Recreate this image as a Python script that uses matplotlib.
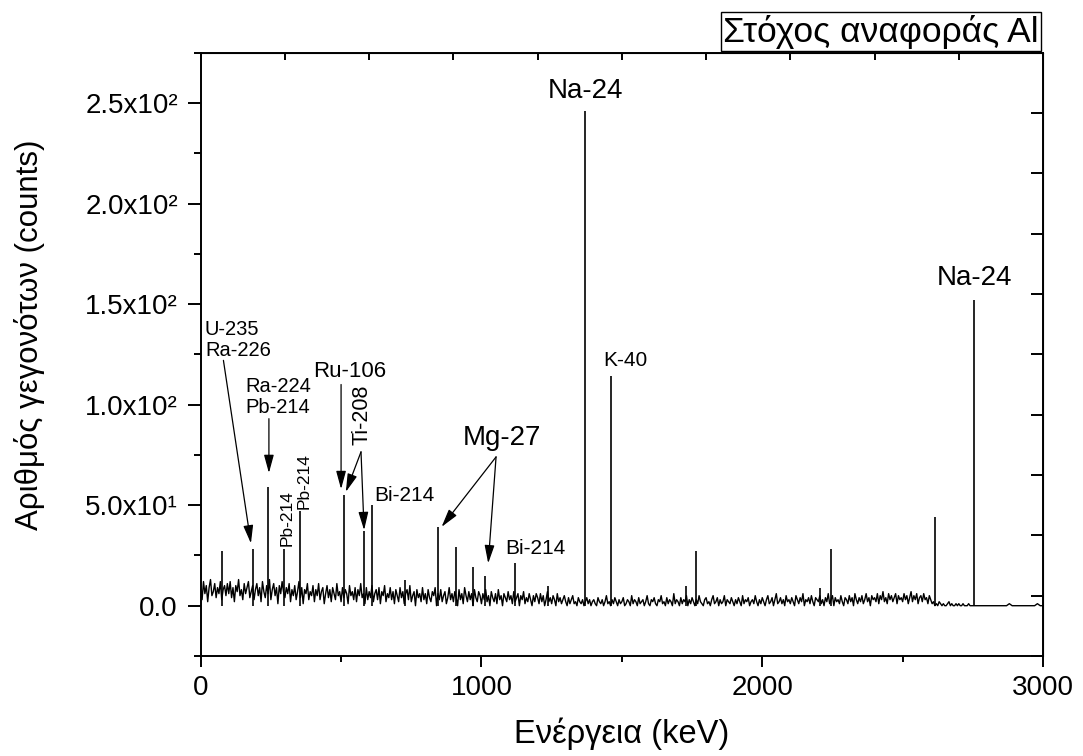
"""Espectro gamma del blanco de referencia de Al con las líneas identificadas."""

import matplotlib
matplotlib.use("Agg")
import matplotlib.pyplot as plt
import numpy as np

plt.rcParams["font.family"] = ["Liberation Sans", "DejaVu Sans"]

# --- Datos -------------------------------------------------------------------
# Fondo continuo: 0-2745 keV cada 5 keV
energia_fondo = np.arange(0, 2750, 5)
cuentas_fondo = [
    8, 3, 12, 6, 10, 2, 9, 13, 5, 7, 11, 4, 9, 6, 12, 3, 8, 10, 5, 11,
    6, 12, 4, 9, 2, 10, 7, 13, 5, 8, 3, 11, 6, 9, 12, 4, 7, 10, 3, 8,
    11, 5, 9, 2, 12, 7, 4, 10, 6, 13, 3, 8, 11, 5, 9, 1, 10, 6, 12, 7,
    4, 9, 6, 11, 2, 8, 5, 10, 3, 7, 12, 4, 9, 1, 8, 6, 11, 3, 7, 5,
    10, 2, 8, 5, 11, 3, 7, 9, 1, 6, 10, 4, 8, 2, 9, 6, 3, 11, 5, 7,
    2, 9, 4, 8, 6, 1, 10, 5, 7, 3, 9, 2, 8, 5, 11, 4, 6, 1, 9, 3,
    7, 4, 10, 2, 6, 8, 3, 9, 1, 7, 5, 10, 2, 6, 4, 9, 3, 7, 1, 8,
    5, 2, 9, 4, 7, 1, 6, 8, 3, 10, 2, 5, 7, 0, 8, 4, 6, 2, 9, 3,
    6, 1, 8, 4, 2, 7, 5, 9, 0, 6, 3, 8, 2, 5, 7, 1, 4, 9, 3, 6,
    2, 7, 4, 0, 8, 3, 6, 1, 9, 5, 2, 7, 3, 6, 0, 8, 4, 2, 7, 5,
    1, 6, 3, 8, 2, 5, 0, 7, 4, 2, 6, 1, 8, 3, 5, 0, 6, 4, 2, 7,
    3, 5, 1, 7, 2, 4, 6, 0, 5, 3, 7, 1, 4, 2, 6, 3, 0, 5, 2, 6,
    4, 1, 6, 2, 5, 0, 3, 7, 2, 4, 1, 5, 3, 0, 6, 2, 4, 1, 3, 5,
    2, 0, 4, 1, 3, 5, 1, 2, 0, 4, 2, 1, 3, 0, 2, 4, 1, 3, 0, 2,
    3, 1, 0, 4, 2, 1, 3, 0, 2, 5, 1, 2, 0, 3, 1, 4, 2, 0, 3, 1,
    2, 4, 0, 1, 3, 2, 0, 5, 1, 3, 2, 0, 4, 1, 2, 3, 0, 2, 5, 1,
    0, 3, 2, 4, 1, 0, 3, 2, 5, 1, 2, 0, 4, 1, 3, 2, 0, 6, 1, 3,
    2, 0, 4, 1, 3, 2, 5, 0, 3, 1, 4, 2, 0, 3, 1, 5, 2, 1, 0, 3,
    4, 1, 2, 0, 3, 5, 1, 2, 4, 0, 3, 1, 2, 5, 0, 3, 2, 1, 4, 2,
    0, 3, 1, 4, 2, 0, 5, 1, 3, 2, 4, 0, 2, 3, 1, 5, 2, 0, 3, 1,
    4, 2, 0, 3, 5, 1, 2, 4, 0, 3, 6, 1, 2, 4, 1, 3, 0, 5, 2, 3,
    1, 4, 2, 0, 5, 3, 1, 4, 2, 6, 0, 3, 2, 4, 1, 5, 2, 0, 4, 3,
    2, 5, 1, 3, 0, 4, 2, 6, 1, 3, 5, 0, 4, 2, 3, 1, 5, 2, 0, 4,
    3, 1, 5, 2, 4, 0, 6, 3, 1, 4, 2, 5, 1, 3, 6, 2, 4, 0, 5, 3,
    4, 2, 6, 1, 5, 3, 7, 2, 4, 1, 6, 3, 5, 2, 4, 6, 1, 5, 3, 4,
    2, 6, 3, 5, 1, 4, 7, 2, 5, 3, 6, 1, 4, 5, 2, 6, 3, 4, 1, 5,
    3, 1, 2, 0, 1, 0, 2, 1, 0, 1, 0, 0, 1, 2, 0, 1, 0, 0, 1, 0,
    1, 0, 0, 1, 0, 0, 0, 1, 0, 0,
]
# Cola del espectro: 2750-3000 keV cada 10 keV
energia_cola = np.arange(2750, 3001, 10)
cuentas_cola = [
    0, 0, 0, 0, 0, 0, 0, 0, 0, 0, 0, 0, 0, 1, 0, 0, 0, 0, 0, 0,
    0, 0, 0, 1, 0, 0,
]

# Picos (keV, cuentas)
picos_energia = [75, 186, 239, 295, 352, 511, 583, 609, 727, 844, 911, 969,
                 1014, 1120, 1238, 1369, 1461, 1730, 1765, 2204, 2244, 2614, 2754]
picos_cuentas = [27, 28, 59, 28, 47, 55, 37, 50, 13, 39, 29, 19,
                 15, 21, 10, 246, 114, 10, 27, 9, 28, 44, 152]

yticks = [0, 50, 100, 150, 200, 250]
yticklabels = ["0.0", "5.0x10¹", "1.0x10²", "1.5x10²", "2.0x10²", "2.5x10²"]
xticks = [0, 1000, 2000, 3000]

energia = np.concatenate([energia_fondo, energia_cola])
cuentas = np.concatenate([cuentas_fondo, cuentas_cola])

# --- Figura -----------------------------------------------------------------
fig = plt.figure(figsize=(10.83, 7.56), dpi=100)
ax = fig.add_axes([0.1853, 0.1323, 0.7778, 0.798])

ax.plot(energia, cuentas, color="black", lw=1.0)
ax.vlines(picos_energia, 0, picos_cuentas, color="black", lw=1.2)

ax.set_xlim(0, 3000)
ax.set_ylim(-25, 275)
ax.set_xticks(xticks)
ax.set_xticks(np.arange(500, 3000, 1000), minor=True)
ax.set_yticks(yticks)
ax.set_yticklabels(yticklabels)
ax.set_yticks(np.arange(-25, 276, 50), minor=True)

for s in ax.spines.values():
    s.set_linewidth(1.4)
ax.tick_params(axis="x", which="major", direction="out", length=8, width=1.4,
               pad=6, labelsize=20, top=False)
ax.tick_params(axis="x", which="minor", direction="out", length=4, width=1.4, top=False)
ax.tick_params(axis="y", which="major", direction="out", length=9.5, width=1.4,
               pad=7, labelsize=20, right=False)
ax.tick_params(axis="y", which="minor", direction="out", length=5, width=1.4, right=False)

# ejes superior y derecho con su propia graduación (hacia dentro)
ax_sup = ax.secondary_xaxis("top")
ax_sup.set_xticks(np.arange(0, 3001, 300))
ax_sup.tick_params(direction="in", length=5, width=1.4, labeltop=False)
ax_der = ax.secondary_yaxis("right")
ax_der.set_yticks(np.arange(-25, 276, 30))
ax_der.tick_params(direction="in", length=9, width=1.4, labelright=False)

fig.text(0.5742, 0.0172, "Ενέργεια (keV)", ha="center", va="baseline", fontsize=23.5)
fig.text(0.0354, 0.5569, "Αριθμός γεγονότων (counts)", rotation=90,
         rotation_mode="anchor", ha="center", va="baseline", fontsize=22.5)

ax.annotate("Στόχος αναφοράς Al", xy=(1, 1), xycoords="axes fraction",
            xytext=(-3, 3), textcoords="offset points", ha="right", va="bottom",
            fontsize=25.5,
            bbox=dict(boxstyle="square,pad=0.06", fc="white", ec="black", lw=1))

# --- Etiquetas de picos -------------------------------------------------------
flecha = dict(arrowstyle="-|>,head_length=1.1,head_width=0.3", color="black",
              lw=0.9, mutation_scale=10, shrinkA=0, shrinkB=0)


def flechita(ini, fin):
    ax.annotate("", xy=fin, xytext=ini, arrowprops=flecha)


ax.text(15, 137.5, "U-235", ha="left", va="center", fontsize=14.5)
ax.text(15, 127, "Ra-226", ha="left", va="center", fontsize=14.5)
flechita((81, 122), (179, 31))

ax.text(158, 109, "Ra-224", ha="left", va="center", fontsize=14.5)
ax.text(158, 98.7, "Pb-214", ha="left", va="center", fontsize=14.5)
flechita((243, 93), (243, 66))

ax.text(307.5, 43.4, "Pb-214", rotation=90, ha="center", va="center", fontsize=12.5)
ax.text(369, 62, "Pb-214", rotation=90, ha="center", va="center", fontsize=12.5)

ax.text(531.7, 116.6, "Ru-106", ha="center", va="center", fontsize=16)
flechita((500, 110), (500, 58))

ax.text(575, 95, "Ti-208", rotation=90, ha="center", va="center", fontsize=15.5)
flechita((571, 76.5), (517, 56.6))
flechita((571, 76.5), (582, 37.6))

ax.text(618, 55, "Bi-214", ha="left", va="center", fontsize=15)

ax.text(1072, 83.5, "Mg-27", ha="center", va="center", fontsize=20)
flechita((1052, 74), (858, 39.2))
flechita((1052, 74), (1024, 21.1))

ax.text(1084, 28.2, "Bi-214", ha="left", va="center", fontsize=15)
ax.text(1513, 121.8, "K-40", ha="center", va="center", fontsize=15)
ax.text(1369, 256, "Na-24", ha="center", va="center", fontsize=20)
ax.text(2756, 163, "Na-24", ha="center", va="center", fontsize=20)

fig.savefig("out.png", dpi=100)
